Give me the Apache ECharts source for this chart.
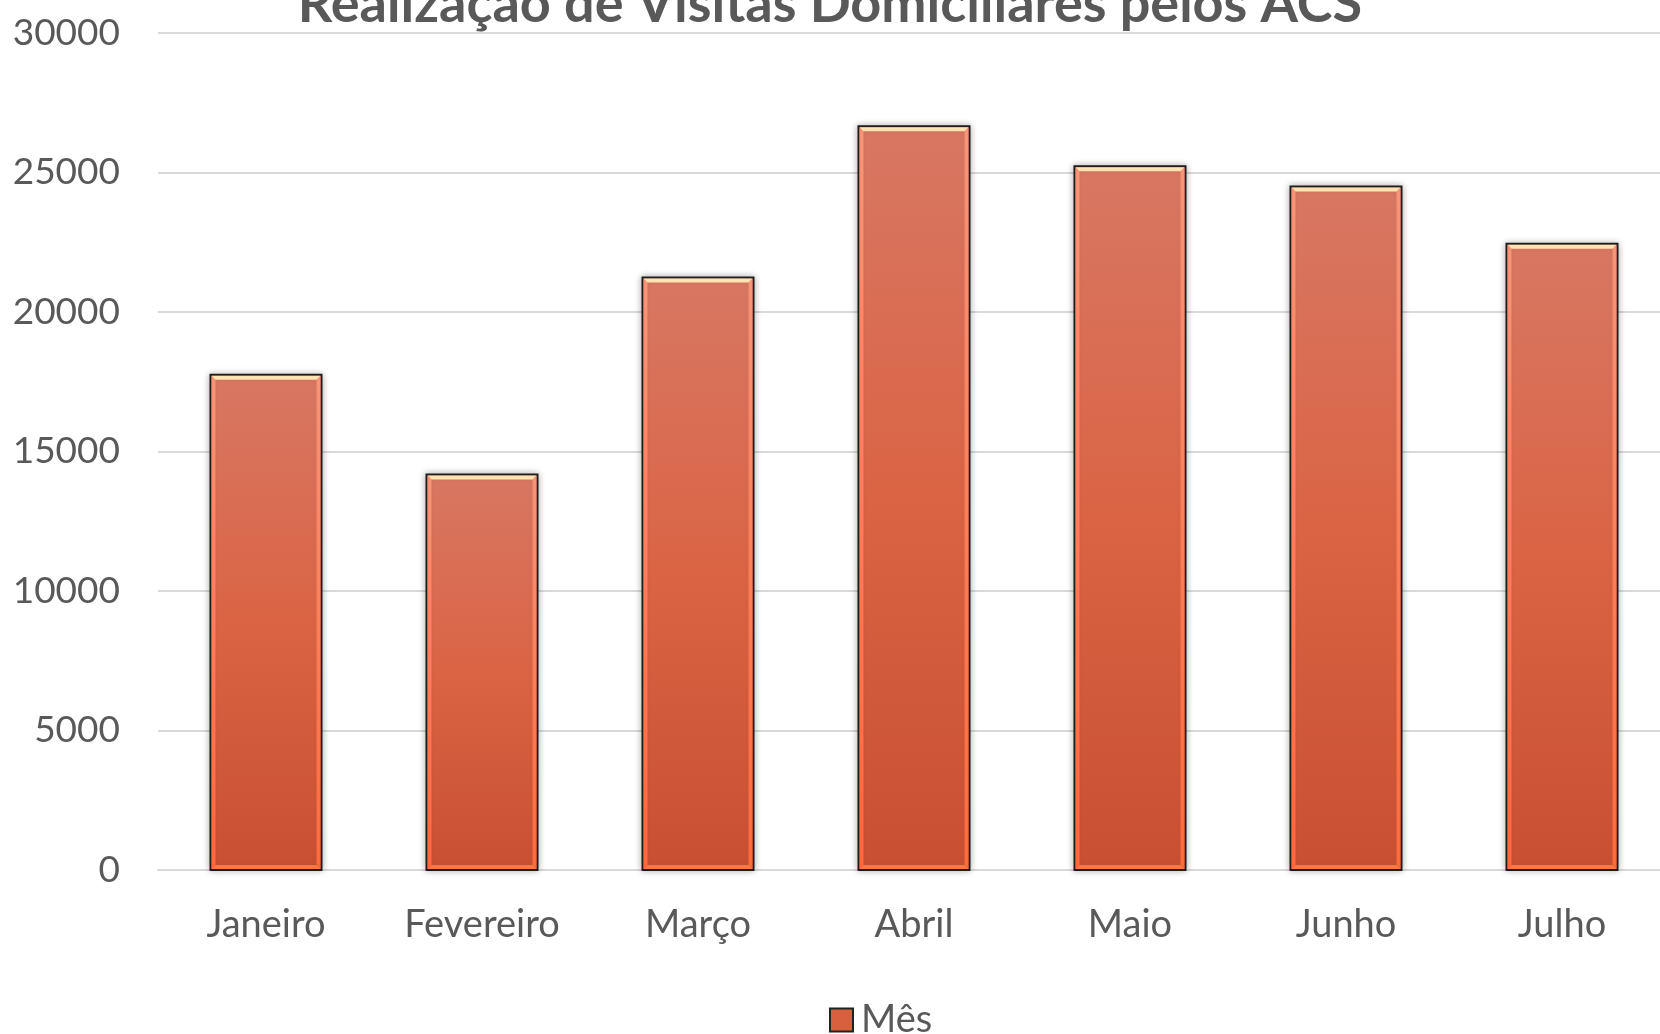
<!DOCTYPE html>
<html><head><meta charset="utf-8">
<script src="https://cdn.jsdelivr.net/npm/echarts@6/dist/echarts.min.js"></script>
<style>html,body{margin:0;padding:0;background:#fff}#c{width:1660px;height:1034px}</style>
</head><body><div id="c"></div>
<script>
const categories = ['Janeiro','Fevereiro','Março','Abril','Maio','Junho','Julho'];
const values = [17750, 14180, 21240, 26660, 25220, 24500, 22450];
const seriesName = 'Mês';
const titleText = 'Realização de Visitas Domiciliares pelos ACS';

const chart = echarts.init(document.getElementById('c'));
function mainFill(){
  return new echarts.graphic.LinearGradient(0,0,0,1,[
    {offset:0,color:'#D87763'},{offset:0.5,color:'#DA6444'},{offset:1,color:'#C94F33'}]);
}
function renderBar(params, api){
  const cat = api.value(0), v = api.value(1);
  const top = api.coord([cat, v]);
  const base = api.coord([cat, 0]);
  const bw = api.size([1,0])[0]*0.514;
  const x0 = top[0]-bw/2, y0 = top[1], h = base[1]-top[1];
  const b = 4;
  const sideFill = new echarts.graphic.LinearGradient(0,0,0,1,[
    {offset:0,color:'#F79478'},{offset:1,color:'#FF6A3A'}]);
  return {type:'group',children:[
    {type:'rect',shape:{x:x0,y:y0,width:bw,height:h},
      style:{fill:mainFill(),stroke:'#1e1e1e',lineWidth:2,
        shadowColor:'rgba(0,0,0,0.28)',shadowBlur:7}},
    {type:'polygon',shape:{points:[[x0+1,y0+1],[x0+1+b,y0+1+b],[x0+1+b,y0+h-1-b],[x0+1,y0+h-1]]},
      style:{fill:sideFill}},
    {type:'polygon',shape:{points:[[x0+bw-1,y0+1],[x0+bw-1-b,y0+1+b],[x0+bw-1-b,y0+h-1-b],[x0+bw-1,y0+h-1]]},
      style:{fill:sideFill}},
    {type:'polygon',shape:{points:[[x0+1,y0+h-1],[x0+1+b,y0+h-1-b],[x0+bw-1-b,y0+h-1-b],[x0+bw-1,y0+h-1]]},
      style:{fill:'#FF7645'}},
    {type:'polygon',shape:{points:[[x0+1,y0+1],[x0+bw-1,y0+1],[x0+bw-1-b,y0+1+b],[x0+1+b,y0+1+b]]},
      style:{fill:'#FFE3B2'}}
  ]};
}
chart.setOption({
  animation:false,
  title:{text:titleText,left:'center',top:-27,
    textStyle:{fontFamily:'Lato',fontWeight:'bold',fontSize:54,color:'#595959'}},
  grid:{left:158,width:1512,top:33,bottom:164,outerBoundsMode:'none',containLabel:false},
  legend:{top:996,left:824,itemWidth:23,itemHeight:23,itemGap:8,
    textStyle:{fontFamily:'Lato',fontSize:38,color:'#595959',padding:[0,0,0,3]},
    data:[{name:seriesName,icon:'rect',itemStyle:{color:'#D9603F',borderColor:'#222',borderWidth:2}}]},
  xAxis:{type:'category',data:categories,
    axisLine:{lineStyle:{color:'#D9D9D9',width:2}},axisTick:{show:false},
    axisLabel:{fontFamily:'Lato',fontSize:38,color:'#595959',margin:36}},
  yAxis:{type:'value',min:0,max:30000,interval:5000,
    axisLine:{show:false},axisTick:{show:false},
    splitLine:{lineStyle:{color:'#D9D9D9',width:2}},
    axisLabel:{fontFamily:'Lato',fontSize:37,color:'#595959',margin:38,formatter:v=>String(v)}},
  series:[{name:seriesName,type:'custom',renderItem:renderBar,
    encode:{x:0,y:1},
    data:values.map((v,i)=>[i,v])}]
});
</script></body></html>
